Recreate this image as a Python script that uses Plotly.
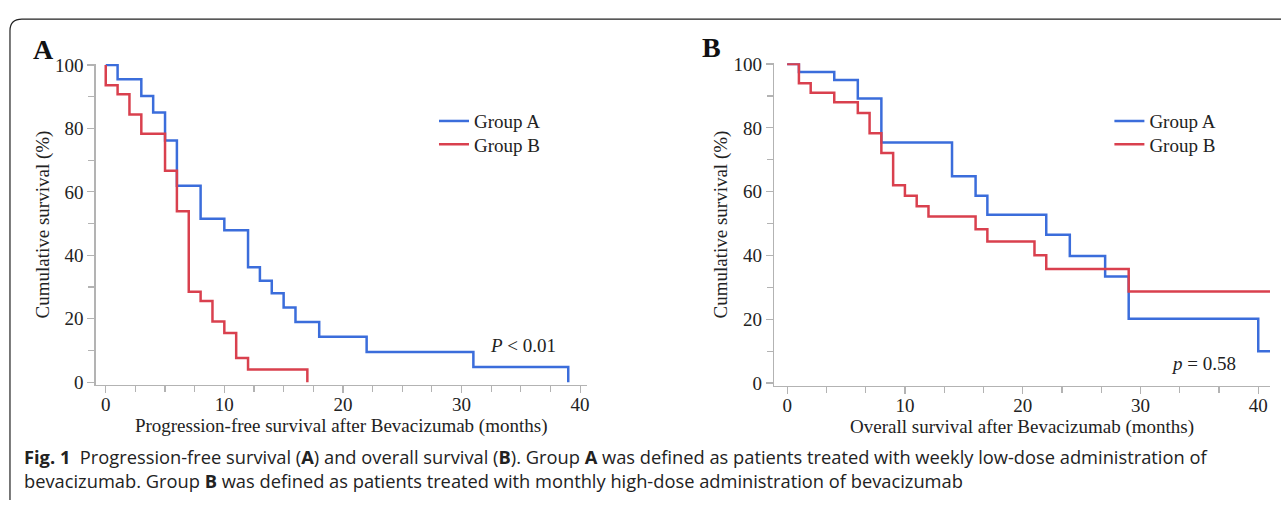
import plotly.graph_objects as go

W, H = 1284, 508

# ---- Data ----
pfs_a_months = [0, 1, 3, 4, 5, 6, 8, 10, 12, 13, 14, 15, 16, 18, 22, 31, 39]
pfs_a_surv = [100, 95.5, 90.2, 85.0, 76.2, 61.9, 51.5, 47.9, 36.2, 32.0, 28.0, 23.5, 19.0, 14.3, 9.5, 4.8, 0]

pfs_b_months = [0, 0, 1, 2, 3, 5, 6, 7, 8, 9, 10, 11, 12, 17]
pfs_b_surv = [100, 93.6, 90.8, 84.4, 78.3, 66.7, 53.9, 28.5, 25.6, 19.1, 15.5, 7.6, 4.0, 0]

os_a_months = [0, 1, 4, 6, 8, 14, 16, 17, 22, 24, 27, 29, 40, 41]
os_a_surv = [100, 97.5, 95.0, 89.2, 75.4, 64.8, 58.7, 52.8, 46.5, 39.8, 33.4, 20.2, 10.0, 10.0]

os_b_months = [0, 1, 2, 4, 6, 7, 8, 9, 10, 11, 12, 16, 17, 21, 22, 29, 41]
os_b_surv = [100, 94.0, 91.0, 88.0, 84.7, 78.3, 72.1, 62.0, 58.7, 55.4, 52.2, 48.2, 44.4, 40.1, 35.8, 28.7, 28.7]

group_names = ["Group A", "Group B"]
y_ticks = [0, 20, 40, 60, 80, 100]
x_ticks = [0, 10, 20, 30, 40]

BLUE = "#3b6ddb"
RED = "#d9404e"
AXC = "#b3b3b3"
SERIF = "Liberation Serif, Times New Roman, serif"
SANS = "Open Sans, Noto Sans, sans-serif"
FS = 19


def fx(p):
    return p / W


def fy(p):
    return 1 - p / H


fig = go.Figure()

series = [
    (pfs_a_months, pfs_a_surv, BLUE, group_names[0], "x", "y", "legend"),
    (pfs_b_months, pfs_b_surv, RED, group_names[1], "x", "y", "legend2"),
    (os_a_months, os_a_surv, BLUE, group_names[0], "x2", "y2", "legend3"),
    (os_b_months, os_b_surv, RED, group_names[1], "x2", "y2", "legend4"),
]
for xs, ys, col, name, xa, ya, lg in series:
    fig.add_trace(go.Scatter(x=xs, y=ys, mode="lines", line=dict(color=col, width=2.5, shape="hv"),
                             name=name, xaxis=xa, yaxis=ya, legend=lg, hoverinfo="skip"))

tickfont = dict(family=SERIF, size=FS, color="#222")
titlefont = dict(family=SERIF, size=FS, color="#222")


def xaxis(domain, rng, minor_dt, title, anchor):
    return dict(domain=domain, range=rng, anchor=anchor, showgrid=False, zeroline=False,
                showline=True, linecolor=AXC, linewidth=1.5,
                tickmode="array", tickvals=x_ticks, ticks="outside", ticklen=7, tickcolor=AXC, tickwidth=1.2,
                ticklabelstandoff=-5,
                minor=dict(tick0=0, dtick=minor_dt, ticks="outside", ticklen=6, tickcolor=AXC, tickwidth=1.2),
                tickfont=tickfont, title=dict(text=title, font=titlefont, standoff=4), fixedrange=True)


def yaxis(domain, rng, anchor):
    return dict(domain=domain, range=rng, anchor=anchor, showgrid=False, zeroline=False,
                showline=True, linecolor=AXC, linewidth=1.5,
                tickmode="array", tickvals=y_ticks, ticks="outside", ticklen=7, tickcolor=AXC, tickwidth=1.2,
                minor=dict(tick0=0, dtick=10, ticks="outside", ticklen=6, tickcolor=AXC, tickwidth=1.2),
                tickfont=tickfont, title=dict(text="Cumulative survival (%)", font=titlefont, standoff=0),
                fixedrange=True)


def legend(xp, yp):
    return dict(x=fx(xp), y=fy(yp), xanchor="left", yanchor="middle", bgcolor="rgba(0,0,0,0)",
                font=dict(family=SERIF, size=FS, color="#222"), itemwidth=30)


fig.update_layout(
    width=W, height=H, margin=dict(l=0, r=0, t=0, b=0),
    paper_bgcolor="white", plot_bgcolor="white",
    xaxis=xaxis([fx(96), fx(588)], [-0.84, 40.55], 2.5, "Progression-free survival after Bevacizumab (months)", "y"),
    yaxis=yaxis([fy(389), fy(57)], [-0.9, 100.3], "x"),
    xaxis2=xaxis([fx(776), fx(1273)], [-1.1, 41.0], 10 / 3, "Overall survival after Bevacizumab (months)", "y2"),
    yaxis2=yaxis([fy(390), fy(56)], [-0.9, 100.3], "x2"),
    legend=legend(435, 116),
    legend2=legend(435, 140),
    legend3=legend(1112, 116),
    legend4=legend(1112, 140),
    showlegend=True,
)

annotations = [
    dict(text="<b>A</b>", x=fx(31), y=fy(42), xanchor="left", yanchor="middle",
         font=dict(family=SERIF, size=28, color="#111")),
    dict(text="<b>B</b>", x=fx(702), y=fy(40), xanchor="left", yanchor="middle",
         font=dict(family=SERIF, size=28, color="#111")),
    dict(text="<i>P</i> &lt; 0.01", x=fx(489), y=fy(348), xanchor="left", yanchor="middle",
         font=dict(family=SERIF, size=FS, color="#222")),
    dict(text="<i>p</i> = 0.58", x=fx(1172), y=fy(367), xanchor="left", yanchor="middle",
         font=dict(family=SERIF, size=FS, color="#222")),
    dict(text="<b>Fig. 1</b>  Progression-free survival (<b>A</b>) and overall survival (<b>B</b>). Group <b>A</b> was "
              "defined as patients treated with weekly low-dose administration of",
         x=fx(22), y=fy(463), xanchor="left", yanchor="middle",
         font=dict(family=SANS, size=18.3, color="#222")),
    dict(text="bevacizumab. Group <b>B</b> was defined as patients treated with monthly high-dose administration of bevacizumab",
         x=fx(22), y=fy(488), xanchor="left", yanchor="middle",
         font=dict(family=SANS, size=18.3, color="#222")),
]
for a in annotations:
    a.update(xref="paper", yref="paper", showarrow=False)
fig.update_layout(annotations=annotations)

# Rounded frame (open on the right)
path = (f"M {fx(1284)},{fy(10.5)} L {fx(22)},{fy(10.5)} "
        f"Q {fx(10)},{fy(10.5)} {fx(10)},{fy(22.5)} L {fx(10)},{fy(508)}")
fig.add_shape(type="path", path=path, xref="paper", yref="paper", line=dict(color="#222", width=1.2))

post = (
    "var h=document.documentElement.style;h.margin='0';h.padding='0';h.overflow='hidden';h.height='508px';"
    "var b=document.body.style;b.margin='0';b.padding='0';b.overflow='hidden';b.height='508px';b.width='1284px';"
    "var g=document.getElementById('{plot_id}');g.style.position='absolute';g.style.top='0px';g.style.left='0px';"
)
fig.write_html("out.html", config={"displayModeBar": False, "staticPlot": True}, post_script=post)
